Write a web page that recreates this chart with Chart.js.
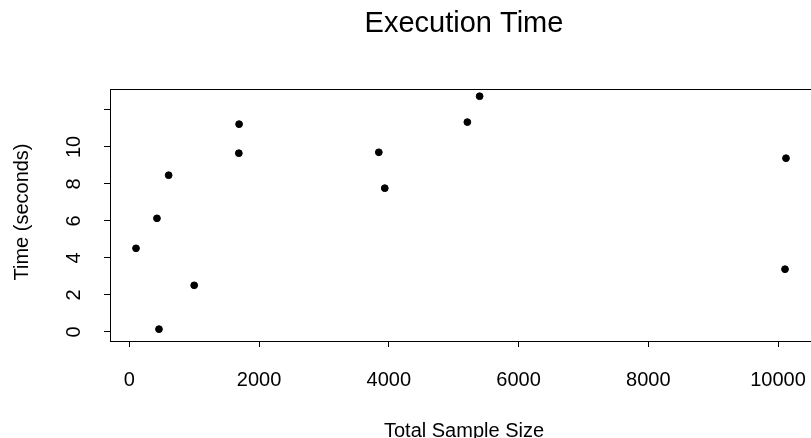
<!DOCTYPE html>
<html>
<head>
<meta charset="utf-8">
<script src="https://cdn.jsdelivr.net/npm/chart.js@4/dist/chart.umd.min.js"></script>
<style>
  html, body { margin: 0; padding: 0; background: #fff; overflow: hidden; }
  #wrap { width: 830px; height: 438px; }
</style>
</head>
<body>
<div id="wrap"><canvas id="chart" width="830" height="438"></canvas></div>
<script>
// Dados
const sampleSize = [103, 426, 457, 606, 1000, 1688, 1692, 3846, 3938, 5211, 5400, 10108, 10123];
const timeSec    = [4.52, 6.14, 0.15, 8.47, 2.52, 9.66, 11.23, 9.71, 7.77, 11.34, 12.74, 3.39, 9.39];
const xTicks = [0, 2000, 4000, 6000, 8000, 10000];
const yTicks = [0, 2, 4, 6, 8, 10];

const FONT = "'Liberation Sans', Arial, sans-serif";

// Textos estilo R (título, rótulos dos eixos, box)
const rTexts = {
  id: "rTexts",
  afterDraw(chart) {
    const { ctx, chartArea: a, scales } = chart;
    ctx.save();
    ctx.strokeStyle = "#000";
    ctx.lineWidth = 1;
    ctx.strokeRect(a.left + 0.5, a.top + 0.5, a.right - a.left, a.bottom - a.top);

    ctx.fillStyle = "#000";
    ctx.font = "20px " + FONT;
    ctx.textAlign = "center";
    ctx.textBaseline = "alphabetic";
    xTicks.forEach(v => ctx.fillText(String(v), scales.x.getPixelForValue(v), 386));

    yTicks.forEach(v => {
      ctx.save();
      ctx.translate(80, scales.y.getPixelForValue(v));
      ctx.rotate(-Math.PI / 2);
      ctx.fillText(String(v), 0, 0);
      ctx.restore();
    });

    ctx.fillText("Total Sample Size", 464, 437);

    ctx.save();
    ctx.translate(28, 212);
    ctx.rotate(-Math.PI / 2);
    ctx.fillText("Time (seconds)", 0, 0);
    ctx.restore();

    ctx.font = "29px " + FONT;
    ctx.fillText("Execution Time", 464, 32);
    ctx.restore();
  }
};

new Chart(document.getElementById("chart").getContext("2d"), {
  type: "scatter",
  data: {
    datasets: [{
      data: sampleSize.map((x, i) => ({ x, y: timeSec[i] })),
      backgroundColor: "#000",
      borderColor: "#000",
      pointRadius: 3.4,
      pointHoverRadius: 3.4
    }]
  },
  options: {
    responsive: false,
    animation: false,
    events: [],
    layout: { padding: { left: 0, top: 89, right: 18, bottom: 0 } },
    plugins: { legend: { display: false }, tooltip: { enabled: false }, title: { display: false } },
    scales: {
      x: {
        type: "linear",
        min: -298,
        max: 10524,
        afterFit: s => { s.height = 97; },
        afterBuildTicks: s => { s.ticks = xTicks.map(v => ({ value: v })); },
        ticks: { display: false },
        grid: { drawOnChartArea: false, drawTicks: true, tickLength: 6, color: "#000", lineWidth: 1 },
        border: { display: true, color: "#000" }
      },
      y: {
        type: "linear",
        min: -0.49,
        max: 13.13,
        afterFit: s => { s.width = 110; },
        afterBuildTicks: s => { s.ticks = [0, 2, 4, 6, 8, 10, 12].map(v => ({ value: v })); },
        ticks: { display: false },
        grid: { drawOnChartArea: false, drawTicks: true, tickLength: 6, color: "#000", lineWidth: 1 },
        border: { display: true, color: "#000" }
      }
    }
  },
  plugins: [rTexts]
});
</script>
</body>
</html>
